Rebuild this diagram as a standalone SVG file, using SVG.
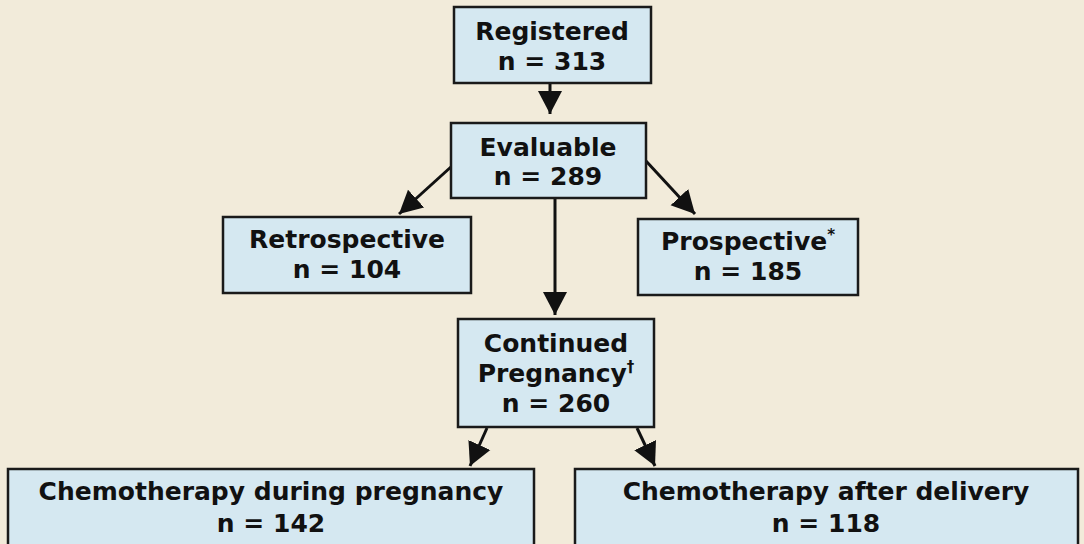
<svg xmlns="http://www.w3.org/2000/svg" width="1084" height="544" viewBox="0 0 1084 544">
<style>
.bg{fill:#F2EBDA}
.box{fill:#D5E8F1;stroke:#1a1a1a;stroke-width:2.5}
.t{font-family:"DejaVu Sans",Verdana,sans-serif;font-weight:bold;font-size:25px;fill:#111;text-anchor:middle}
.sup{font-size:15px}
.c{stroke:#111;stroke-width:3;fill:none;marker-end:url(#ah)}
</style>
<defs>
<marker id="ah" markerUnits="userSpaceOnUse" markerWidth="26" markerHeight="26" viewBox="0 0 26 26" refX="23" refY="13" orient="auto">
<path d="M0,1 L23,13 L0,25 Z" fill="#111"/>
</marker>
</defs>
<rect class="bg" x="0" y="0" width="1084" height="544"/>
<g id="connectors">
<line class="c" x1="550" y1="84" x2="550" y2="114"/>
<line class="c" x1="452" y1="166" x2="399" y2="214"/>
<line class="c" x1="646" y1="161" x2="695" y2="214"/>
<line class="c" x1="555" y1="199" x2="555" y2="315"/>
<line class="c" x1="487" y1="428" x2="470" y2="466"/>
<line class="c" x1="637" y1="428" x2="655" y2="466"/>
</g>
<g id="registered">
<rect class="box" x="454" y="7" width="197" height="76"/>
<text class="t" x="552" y="40">Registered</text>
<text class="t" x="552" y="70">n = 313</text>
</g>
<g id="evaluable">
<rect class="box" x="451" y="123" width="195" height="75"/>
<text class="t" x="548" y="156">Evaluable</text>
<text class="t" x="548" y="185">n = 289</text>
</g>
<g id="retrospective">
<rect class="box" x="223" y="217" width="248" height="76"/>
<text class="t" x="347" y="248">Retrospective</text>
<text class="t" x="347" y="278">n = 104</text>
</g>
<g id="prospective">
<rect class="box" x="638" y="219" width="220" height="76"/>
<text class="t" x="748" y="250">Prospective<tspan class="sup" dy="-10">*</tspan></text>
<text class="t" x="748" y="280">n = 185</text>
</g>
<g id="continued">
<rect class="box" x="458" y="319" width="196" height="108"/>
<text class="t" x="556" y="352">Continued</text>
<text class="t" x="556" y="382">Pregnancy<tspan class="sup" dy="-10">†</tspan></text>
<text class="t" x="556" y="412">n = 260</text>
</g>
<g id="during">
<rect class="box" x="8" y="469" width="526" height="90"/>
<text class="t" x="271" y="500">Chemotherapy during pregnancy</text>
<text class="t" x="271" y="532">n = 142</text>
</g>
<g id="after">
<rect class="box" x="575" y="469" width="503" height="90"/>
<text class="t" x="826" y="500">Chemotherapy after delivery</text>
<text class="t" x="826" y="532">n = 118</text>
</g>
</svg>
